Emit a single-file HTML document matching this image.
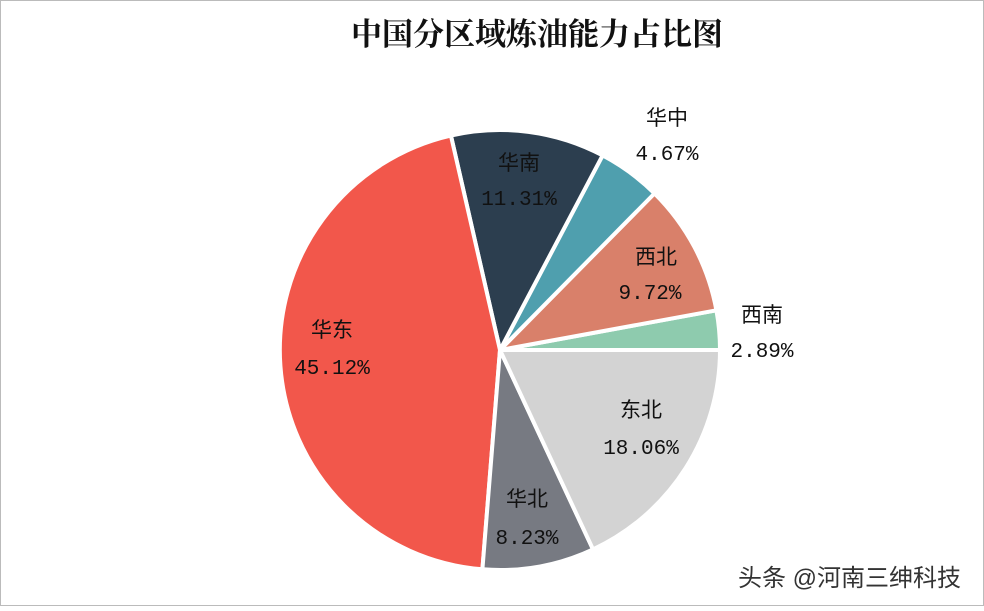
<!DOCTYPE html>
<html><head><meta charset="utf-8"><style>
html,body{margin:0;padding:0;background:#fff}
body{width:984px;height:606px;overflow:hidden}
</style></head><body>
<svg width="984" height="606" xmlns="http://www.w3.org/2000/svg">
<rect x="0.5" y="0.5" width="983" height="605" fill="#fff" stroke="#bbb"/>
<text x="537" y="45" text-anchor="middle" font-family="Liberation Serif,'Noto Serif CJK SC',serif" font-weight="bold" font-size="31" fill="#111">中国分区域炼油能力占比图</text>
<g stroke="#fff" stroke-width="4" stroke-linejoin="round">
<path d="M500,350 L720,350 A220,220 0 0 0 716.4,310.3 Z" fill="#8ecbae"/>
<path d="M500,350 L716.4,310.3 A220,220 0 0 0 654.5,193.4 Z" fill="#d9806a"/>
<path d="M500,350 L654.5,193.4 A220,220 0 0 0 602.6,155.4 Z" fill="#4f9fae"/>
<path d="M500,350 L602.6,155.4 A220,220 0 0 0 450.9,135.5 Z" fill="#2c3e4f"/>
<path d="M500,350 L450.9,135.5 A220,220 0 0 0 482.4,569.3 Z" fill="#f2574b"/>
<path d="M500,350 L482.4,569.3 A220,220 0 0 0 593,549.4 Z" fill="#777a82"/>
<path d="M500,350 L593,549.4 A220,220 0 0 0 720,350 Z" fill="#d3d3d3"/>
</g>
<g font-family="Liberation Mono,'Noto Sans CJK SC',monospace" font-size="21" fill="#111" text-anchor="middle">
<text x="667" y="125">华中</text><text x="667" y="160">4.67%</text>
<text x="519" y="170">华南</text><text x="519" y="205">11.31%</text>
<text x="656" y="264">西北</text><text x="650" y="299">9.72%</text>
<text x="762" y="322">西南</text><text x="762" y="357">2.89%</text>
<text x="332" y="337">华东</text><text x="332" y="374">45.12%</text>
<text x="641" y="417">东北</text><text x="641" y="454">18.06%</text>
<text x="527" y="506">华北</text><text x="527" y="544">8.23%</text>
</g>
<text x="738" y="586" font-family="Liberation Sans,'Noto Sans CJK SC',sans-serif" font-size="24" fill="#333">头条 @河南三绅科技</text>
</svg>
</body></html>
